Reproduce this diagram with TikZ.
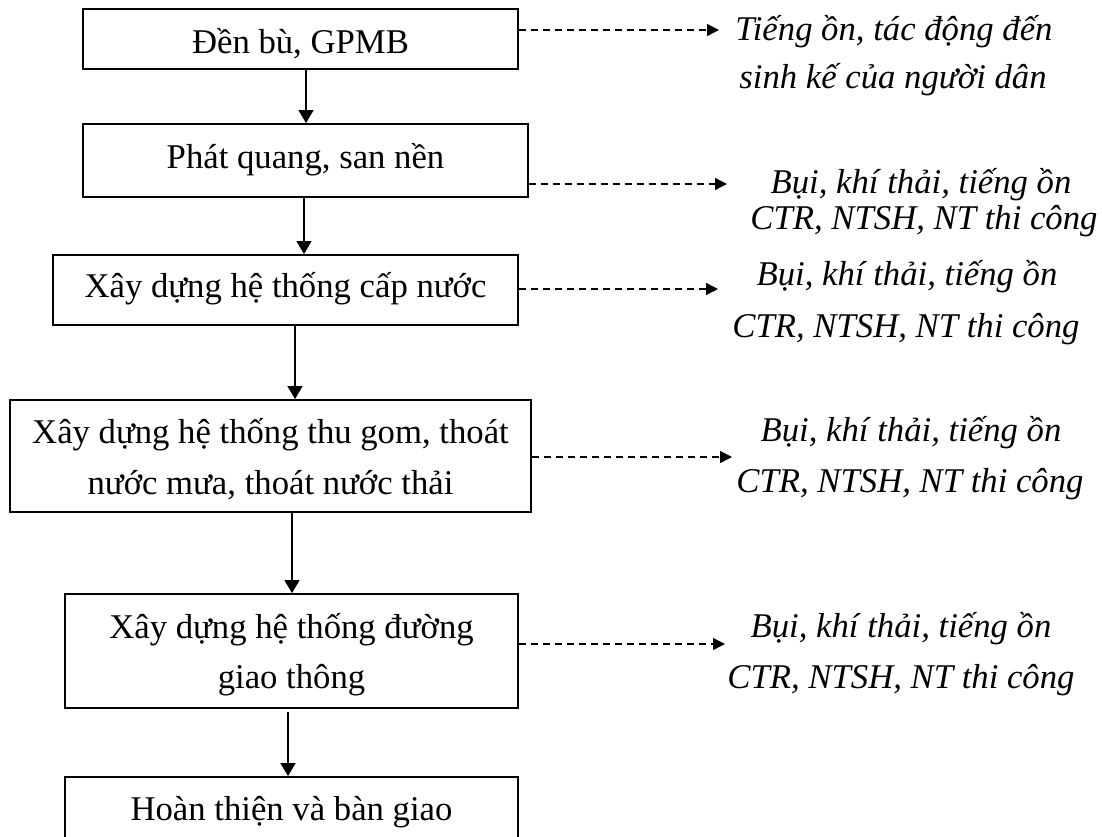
\documentclass[tikz,border=0pt]{standalone}
\usepackage{fontspec}
\setmainfont{Liberation Serif}
\usetikzlibrary{arrows.meta}
\begin{document}
\begin{tikzpicture}[x=1pt,y=-1pt,
  box/.style={draw, line width=1.9pt, rectangle, inner sep=0pt},
  txt/.style={font=\fontsize{34.7}{34.7}\selectfont, inner sep=0pt, anchor=base},
  itx/.style={font=\fontsize{34.7}{34.7}\selectfont\itshape, inner sep=0pt, anchor=base},
  flow/.style={line width=1.6pt, -{Triangle[length=13pt,width=15pt]}},
  effect/.style={line width=1.4pt, dash pattern=on 7pt off 5pt, -{Triangle[length=12pt,width=12pt]}}]
\useasboundingbox (0,0) rectangle (1102,836);
\clip (0,0) rectangle (1102,836);
\fill[white] (0,0) rectangle (1102,836);

% process boxes
\node[box, minimum width=435pt, minimum height=60pt]  (b1) at (300.5,39)  {};
\node[box, minimum width=445pt, minimum height=73pt]  (b2) at (305.5,160.5) {};
\node[box, minimum width=465pt, minimum height=70pt]  (b3) at (285.5,290) {};
\node[box, minimum width=521pt, minimum height=112pt] (b4) at (270.5,456) {};
\node[box, minimum width=453pt, minimum height=114pt] (b5) at (291.5,651) {};
\node[box, minimum width=453pt, minimum height=80pt]  (b6) at (291.5,817) {};

% box texts
\node[txt] (b1t)  at (300.5,53)  {Đền bù, GPMB};
\node[txt] (b2t)  at (305.5,168) {Phát quang, san nền};
\node[txt] (b3t)  at (285.5,297) {Xây dựng hệ thống cấp nước};
\node[txt] (b4ta) at (270.5,443) {Xây dựng hệ thống thu gom, thoát};
\node[txt] (b4tb) at (270.5,494) {nước mưa, thoát nước thải};
\node[txt] (b5ta) at (291.5,638) {Xây dựng hệ thống đường};
\node[txt] (b5tb) at (291.5,688) {giao thông};
\node[txt] (b6t)  at (291.5,820) {Hoàn thiện và bàn giao};

% impact texts
\node[itx] (t1a) at (894,40)  {Tiếng ồn, tác động đến};
\node[itx] (t1b) at (893,88)  {sinh kế của người dân};
\node[itx] (t2a) at (921,193) {Bụi, khí thải, tiếng ồn};
\node[itx] (t2b) at (924,229) {CTR, NTSH, NT thi công};
\node[itx] (t3a) at (907,285) {Bụi, khí thải, tiếng ồn};
\node[itx] (t3b) at (906,337) {CTR, NTSH, NT thi công};
\node[itx] (t4a) at (911,441) {Bụi, khí thải, tiếng ồn};
\node[itx] (t4b) at (910,492) {CTR, NTSH, NT thi công};
\node[itx] (t5a) at (901,637) {Bụi, khí thải, tiếng ồn};
\node[itx] (t5b) at (901,688) {CTR, NTSH, NT thi công};

% flow arrows
\draw[flow] (b1.south -| 306,0) -- (b2.north -| 306,0);
\draw[flow] (b2.south -| 304,0) -- (b3.north -| 304,0);
\draw[flow] (b3.south -| 295,0) -- (b4.north -| 295,0);
\draw[flow] (b4.south -| 292,0) -- (b5.north -| 292,0);
\coordinate (a5s) at (288,712);
\draw[flow] (a5s) -- (b6.north -| a5s);

% impact arrows
\coordinate (e1) at (719,30);
\coordinate (e2) at (727,184);
\coordinate (e3) at (718,289);
\coordinate (e4) at (732,457);
\coordinate (e5) at (725,644);
\draw[effect] (b1.east |- e1) -- (e1);
\draw[effect] (b2.east |- e2) -- (e2);
\draw[effect] (b3.east |- e3) -- (e3);
\draw[effect] (b4.east |- e4) -- (e4);
\draw[effect] (b5.east |- e5) -- (e5);
\end{tikzpicture}
\end{document}
